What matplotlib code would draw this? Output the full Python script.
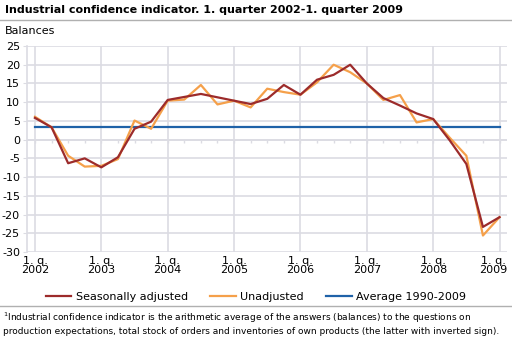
import matplotlib
matplotlib.use("Agg")
import matplotlib.pyplot as plt
import matplotlib.transforms as mtransforms
from matplotlib.lines import Line2D

# Quarterly values 2002Q1 - 2009Q1
quarters = list(range(29))
year_labels = ["1. q.\n2002", "1. q.\n2003", "1. q.\n2004", "1. q.\n2005",
               "1. q.\n2006", "1. q.\n2007", "1. q.\n2008", "1. q.\n2009"]
seasonally_adjusted = [5.8, 3.3, -6.3, -5.0, -7.4, -4.7, 2.9, 4.8,
                       10.6, 11.4, 12.2, 11.3, 10.4, 9.5, 10.9, 14.6,
                       12.0, 16.0, 17.3, 20.0, 15.0, 11.1, 9.1, 7.0,
                       5.5, -0.2, -6.5, -23.3, -20.7]
unadjusted = [6.1, 3.3, -4.3, -7.2, -7.0, -5.2, 5.1, 2.9,
              10.4, 10.7, 14.6, 9.4, 10.4, 8.6, 13.6, 12.7,
              12.0, 15.3, 20.0, 18.0, 15.0, 10.6, 11.9, 4.6,
              5.5, 0.5, -4.3, -25.6, -20.7]
average_1990_2009 = 3.3

RED = "#9c2b2b"
ORANGE = "#f5a04a"
BLUE = "#1f62a8"
GRID = "#dcdce3"

fig = plt.figure(figsize=(5.12, 3.38), dpi=100)
ax = fig.add_axes([27/512, 1 - 252/338, 480/512, 206/338])

ax.set_xlim(-0.48, 28.45)
ax.set_ylim(-30, 25)

# grid
ax.set_yticks(range(-30, 26, 5))
ax.set_yticklabels([str(v) for v in range(-30, 26, 5)], fontsize=8)
ax.set_xticks(range(0, 29, 4))
ax.set_xticklabels(year_labels, fontsize=8, linespacing=0.9)
ax.grid(True, color=GRID, lw=1.2)
ax.set_axisbelow(True)
ax.tick_params(axis="x", length=0, pad=3)
ax.tick_params(axis="y", length=3, color=GRID, pad=2)
for s in ["top", "right", "bottom"]:
    ax.spines[s].set_visible(False)
ax.spines["left"].set_color(GRID)
ax.spines["left"].set_linewidth(1.2)

# keep the last year label inside the figure
last = ax.get_xticklabels()[-1]
last.set_transform(last.get_transform() +
                   mtransforms.ScaledTranslation(-6/100, 0, fig.dpi_scale_trans))

# zero axis with quarter ticks
ax.axhline(0, color=GRID, lw=1.2, zorder=1)
ax.vlines(quarters, -0.9, 0, color=GRID, lw=1.0, zorder=1)

ax.plot([0, 28], [average_1990_2009] * 2, color=BLUE, lw=1.6, zorder=2)
ax.plot(quarters, unadjusted, color=ORANGE, lw=1.6, zorder=3)
ax.plot(quarters, seasonally_adjusted, color=RED, lw=1.6, zorder=4)

# title and headings
fig.text(5/512, 1 - 10/338, "Industrial confidence indicator. 1. quarter 2002-1. quarter 2009",
         fontsize=8, fontweight="bold", va="center")
fig.add_artist(Line2D([0, 1], [1 - 20/338] * 2, color="#b0b0b0", lw=1))
fig.text(5/512, 1 - 31/338, "Balances", fontsize=8, va="center")

# legend
handles = [Line2D([], [], color=RED, lw=1.6),
           Line2D([], [], color=ORANGE, lw=1.6),
           Line2D([], [], color=BLUE, lw=1.6)]
fig.legend(handles, ["Seasonally adjusted", "Unadjusted", "Average 1990-2009"],
           loc="center", bbox_to_anchor=(0.5, 1 - 297/338), ncol=3, frameon=False,
           fontsize=8, handlelength=2.3, handletextpad=0.4, columnspacing=2.0)
fig.add_artist(Line2D([0, 1], [1 - 306/338] * 2, color="#b0b0b0", lw=1))

fig.text(3/512, 1 - 318/338,
         "$^1$Industrial confidence indicator is the arithmetic average of the answers (balances) to the questions on",
         fontsize=6.5, va="center")
fig.text(3/512, 1 - 331/338,
         "production expectations, total stock of orders and inventories of own products (the latter with inverted sign).",
         fontsize=6.5, va="center")

fig.savefig("out.png", dpi=100)
